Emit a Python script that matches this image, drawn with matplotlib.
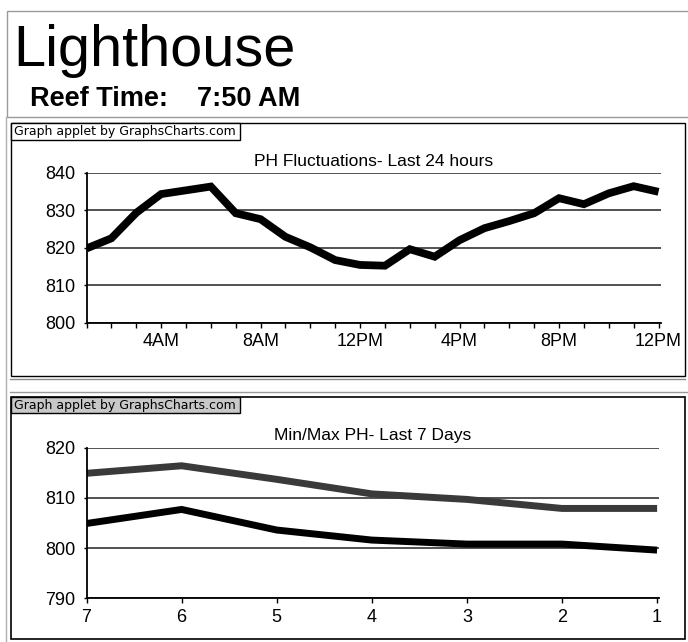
import matplotlib
matplotlib.use("Agg")
import matplotlib.pyplot as plt
from matplotlib.patches import Rectangle
from matplotlib.lines import Line2D

# --- data -------------------------------------------------------------
hour_labels = ["", "", "", "4AM", "", "", "", "8AM", "", "", "", "12PM",
               "", "", "", "4PM", "", "", "", "8PM", "", "", "", "12PM"]
ph_24h = [819.8, 822.5, 829.3, 834.3, 835.3, 836.3, 829.2, 827.6,
          822.9, 820.1, 816.7, 815.4, 815.2, 819.6, 817.6, 822.0,
          825.2, 827.1, 829.2, 833.2, 831.6, 834.5, 836.4, 834.9]
ticks_24h = [800, 810, 820, 830, 840]

days = [7, 6, 5, 4, 3, 2, 1]
ph_max = [814.9, 816.4, 813.7, 810.8, 809.7, 807.9, 807.9]
ph_min = [804.9, 807.7, 803.6, 801.6, 800.8, 800.8, 799.6]
ticks_7d = [790, 800, 810, 820]

W, H = 688, 642
NARROW = ["Liberation Sans Narrow", "Liberation Sans", "DejaVu Sans"]
SANS = ["Liberation Sans", "DejaVu Sans"]

fig = plt.figure(figsize=(W / 100, H / 100), dpi=100)


def fx(x):
    return x / W


def fy(y):
    return 1 - y / H


def box(x0, y0, x1, y1, ec="black", fc="none", lw=1.0, z=0):
    fig.add_artist(Rectangle((fx(x0), fy(y1)), fx(x1) - fx(x0), fy(y0) - fy(y1),
                             transform=fig.transFigure, ec=ec, fc=fc, lw=lw,
                             zorder=z))


def hline(x0, x1, y, color, lw=1.0):
    fig.add_artist(Line2D([fx(x0), fx(x1)], [fy(y), fy(y)],
                          transform=fig.transFigure, color=color, lw=lw))


def style_axis(ax, yticks):
    for s in ("top", "right"):
        ax.spines[s].set_visible(False)
    ax.spines["left"].set_linewidth(1.3)
    ax.spines["bottom"].set_linewidth(1.3)
    ax.set_yticks(yticks)
    ax.set_ylim(yticks[0], yticks[-1])
    ax.yaxis.grid(True, color="#333333", linewidth=1.2)
    ax.set_axisbelow(True)
    ax.tick_params(axis="y", direction="out", length=2.5, width=1, pad=5.5)
    ax.tick_params(axis="x", direction="out", length=3.5, width=1, pad=4)
    for lab in ax.get_xticklabels() + ax.get_yticklabels():
        lab.set_family(NARROW)
        lab.set_fontsize(13)
    ax.patch.set_alpha(0)


# --- header -----------------------------------------------------------
box(6.5, 10.5, 700, 117, ec="#9a9a9a", lw=1.0)
fig.text(fx(13), fy(66.5), "Lighthouse", family=SANS, fontsize=41.5,
         ha="left", va="baseline")
fig.text(fx(30), fy(106), "Reef Time:", family=SANS, fontsize=19.5,
         fontweight="bold", ha="left", va="baseline")
fig.text(fx(197), fy(106), "7:50 AM", family=SANS, fontsize=19.5,
         fontweight="bold", ha="left", va="baseline")

# --- panels -----------------------------------------------------------
box(10.5, 123, 685, 376, ec="black", lw=1.0)
hline(10, 685, 379, "#8a8a8a", 1.0)
hline(10, 688, 392, "#9a9a9a", 1.0)
box(10.5, 397, 685, 639, ec="black", lw=1.2)
fig.add_artist(Line2D([fx(6), fx(6)], [fy(117), fy(642)],
                      transform=fig.transFigure, color="#b0b0b0", lw=1.0))

for y0, y1, fc in ((123, 140, "white"), (397, 413, "#c8c8c8")):
    box(10.5, y0, 240, y1, ec="black", fc=fc, lw=1.0, z=3)
    fig.text(fx(13.5), fy((y0 + y1) / 2 + 0.5), "Graph applet by GraphsCharts.com",
             family=["DejaVu Sans"], fontsize=9, ha="left", va="center", zorder=4)

# --- PH last 24 hours ---------------------------------------------------
ax1 = fig.add_axes([fx(86.5), fy(322.7), fx(661) - fx(86.5), (322.7 - 172.7) / H])
x24 = list(range(len(ph_24h)))
ax1.plot(x24, ph_24h, color="black", linewidth=5.6,
         solid_joinstyle="miter", solid_capstyle="butt")
ax1.set_xlim(0, len(ph_24h) - 1 + 0.1)
ax1.set_xticks(x24)
ax1.set_xticklabels(hour_labels)
style_axis(ax1, ticks_24h)
ax1.text(0.5, 1.072, "PH Fluctuations- Last 24 hours", transform=ax1.transAxes,
         family=NARROW, fontsize=12.5, ha="center", va="center")

# --- Min/Max last 7 days ------------------------------------------------
ax2 = fig.add_axes([fx(86.5), fy(598.3), fx(659) - fx(86.5), (598.3 - 447.7) / H])
ax2.plot(days, ph_max, color="#3a3a3a", linewidth=5.0,
         solid_joinstyle="miter", solid_capstyle="butt")
ax2.plot(days, ph_min, color="black", linewidth=5.0,
         solid_joinstyle="miter", solid_capstyle="butt")
ax2.set_xlim(7, 0.98)
ax2.set_xticks(days)
ax2.set_xticklabels([str(d) for d in days])
style_axis(ax2, ticks_7d)
ax2.text(0.5, 1.078, "Min/Max PH- Last 7 Days", transform=ax2.transAxes,
         family=NARROW, fontsize=12.5, ha="center", va="center")

fig.savefig("out.png", dpi=100)
